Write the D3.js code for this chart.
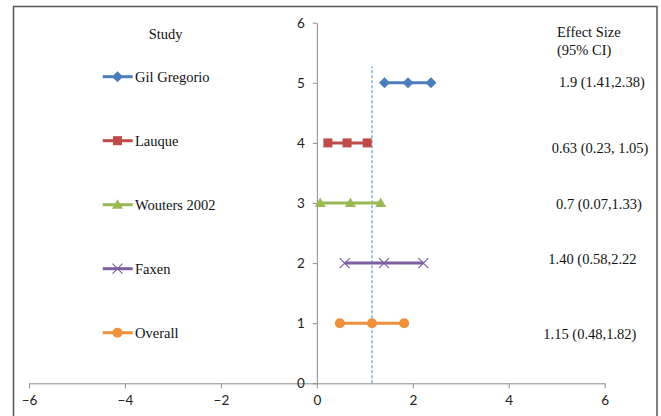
<!DOCTYPE html>
<html>
<head>
<meta charset="utf-8">
<script src="https://cdnjs.cloudflare.com/ajax/libs/d3/7.8.5/d3.min.js"></script>
<style>
  body { margin: 0; background: #fff; }
  svg { display: block; }
  .tick text { font-family: Lato, "Open Sans", sans-serif; font-size: 13.5px; fill: #222; }
  .serif { font-family: "Liberation Serif", "Times New Roman", serif; font-size: 14.5px; fill: #111; }
</style>
</head>
<body>
<script>
// data
let studies = ["Gil Gregorio", "Lauque", "Wouters 2002", "Faxen", "Overall"]
let rows = [5, 4, 3, 2, 1]
let lower = [1.41, 0.23, 0.07, 0.58, 0.48]
let effect = [1.9, 0.63, 0.7, 1.40, 1.15]
let upper = [2.38, 1.05, 1.33, 2.22, 1.82]
let effectLabels = ["1.9 (1.41,2.38)", "0.63 (0.23, 1.05)", "0.7 (0.07,1.33)", "1.40 (0.58,2.22", "1.15 (0.48,1.82)"]
let xTicks = [-6, -4, -2, 0, 2, 4, 6]
let yTicks = [0, 1, 2, 3, 4, 5, 6]
let overallLine = [0, 5.27]

let colors = ["#4A7EBB", "#BE4B48", "#98B954", "#7D5FA0", "#F08F3C"]
let shapes = ["diamond", "square", "triangle", "cross", "circle"]

let w = 661
let h = 416

let svg = d3.select("body").append("svg")
  .attr("width", w)
  .attr("height", h)

// outer frame
svg.append("path")
  .attr("d", "M13.5," + (h + 2) + " L13.5,6.5 L657,6.5 L657," + (h + 2))
  .attr("fill", "none")
  .attr("stroke", "#555")
  .attr("stroke-width", 1.5)

let x = d3.scaleLinear().domain([-6, 6]).range([29, 604.7])
let y = d3.scaleLinear().domain([0, 6]).range([383.3, 22.7])

let xAxis = svg.append("g")
  .attr("transform", "translate(0," + y(0) + ")")
  .call(d3.axisBottom(x).tickValues(xTicks).tickFormat(d3.format("d")).tickSize(5).tickPadding(7).tickSizeOuter(0))
let yAxis = svg.append("g")
  .attr("transform", "translate(" + x(0) + ",0)")
  .call(d3.axisLeft(y).tickValues(yTicks).tickFormat(d3.format("d")).tickSize(4).tickPadding(8).tickSizeOuter(0))

svg.selectAll(".domain, .tick line").attr("stroke", "#8c8c8c")

// dashed line at the overall effect
svg.append("line")
  .attr("x1", x(effect[4])).attr("x2", x(effect[4]))
  .attr("y1", y(overallLine[0])).attr("y2", y(overallLine[1]))
  .attr("stroke", "#5B9BD5")
  .attr("stroke-width", 1.2)
  .attr("stroke-dasharray", "3,2")

let drawMarker = (g, shape, color, cx, cy) => {
  if (shape === "diamond") {
    g.append("path").attr("d", "M" + cx + "," + (cy - 5.5) + " L" + (cx + 5.5) + "," + cy + " L" + cx + "," + (cy + 5.5) + " L" + (cx - 5.5) + "," + cy + " Z").attr("fill", color)
  } else if (shape === "square") {
    g.append("rect").attr("x", cx - 4.5).attr("y", cy - 4.5).attr("width", 9).attr("height", 9).attr("fill", color)
  } else if (shape === "triangle") {
    g.append("path").attr("d", "M" + cx + "," + (cy - 5.5) + " L" + (cx + 5.5) + "," + (cy + 4) + " L" + (cx - 5.5) + "," + (cy + 4) + " Z").attr("fill", color)
  } else if (shape === "cross") {
    g.append("path").attr("d", "M" + (cx - 5) + "," + (cy - 5) + " L" + (cx + 5) + "," + (cy + 5) + " M" + (cx - 5) + "," + (cy + 5) + " L" + (cx + 5) + "," + (cy - 5))
      .attr("stroke", color).attr("stroke-width", 1.2).attr("fill", "none")
  } else {
    g.append("circle").attr("cx", cx).attr("cy", cy).attr("r", 5).attr("fill", color)
  }
}

// series
studies.forEach((name, i) => {
  let g = svg.append("g")
  let pts = [lower[i], effect[i], upper[i]]
  g.append("line")
    .attr("x1", x(lower[i])).attr("x2", x(upper[i]))
    .attr("y1", y(rows[i])).attr("y2", y(rows[i]))
    .attr("stroke", colors[i])
    .attr("stroke-width", 3)
  pts.forEach((p) => drawMarker(g, shapes[i], colors[i], x(p), y(rows[i])))
})

// legend on the left
let legendY = [76.7, 140.7, 204.7, 268.7, 332.7]
studies.forEach((name, i) => {
  let g = svg.append("g")
  g.append("line")
    .attr("x1", 102.7).attr("x2", 132.7)
    .attr("y1", legendY[i]).attr("y2", legendY[i])
    .attr("stroke", colors[i])
    .attr("stroke-width", 3)
  drawMarker(g, shapes[i], colors[i], 117.5, legendY[i])
  g.append("text")
    .attr("class", "serif")
    .attr("x", 135)
    .attr("y", legendY[i] + 4.8)
    .text(name)
})

svg.append("text").attr("class", "serif")
  .attr("x", 165.7).attr("y", 39)
  .attr("text-anchor", "middle")
  .text("Study")

svg.append("text").attr("class", "serif").attr("x", 557).attr("y", 37).text("Effect Size")
svg.append("text").attr("class", "serif").attr("x", 557).attr("y", 54.5).text("(95% CI)")

// effect size labels
let labelX = [559, 551.7, 556, 548.3, 543.3]
let labelY = [81.7, 148.3, 204.5, 259.3, 334]
effectLabels.forEach((t, i) => {
  svg.append("text").attr("class", "serif")
    .attr("x", labelX[i])
    .attr("y", labelY[i] + 4.8)
    .text(t)
})
</script>
</body>
</html>
